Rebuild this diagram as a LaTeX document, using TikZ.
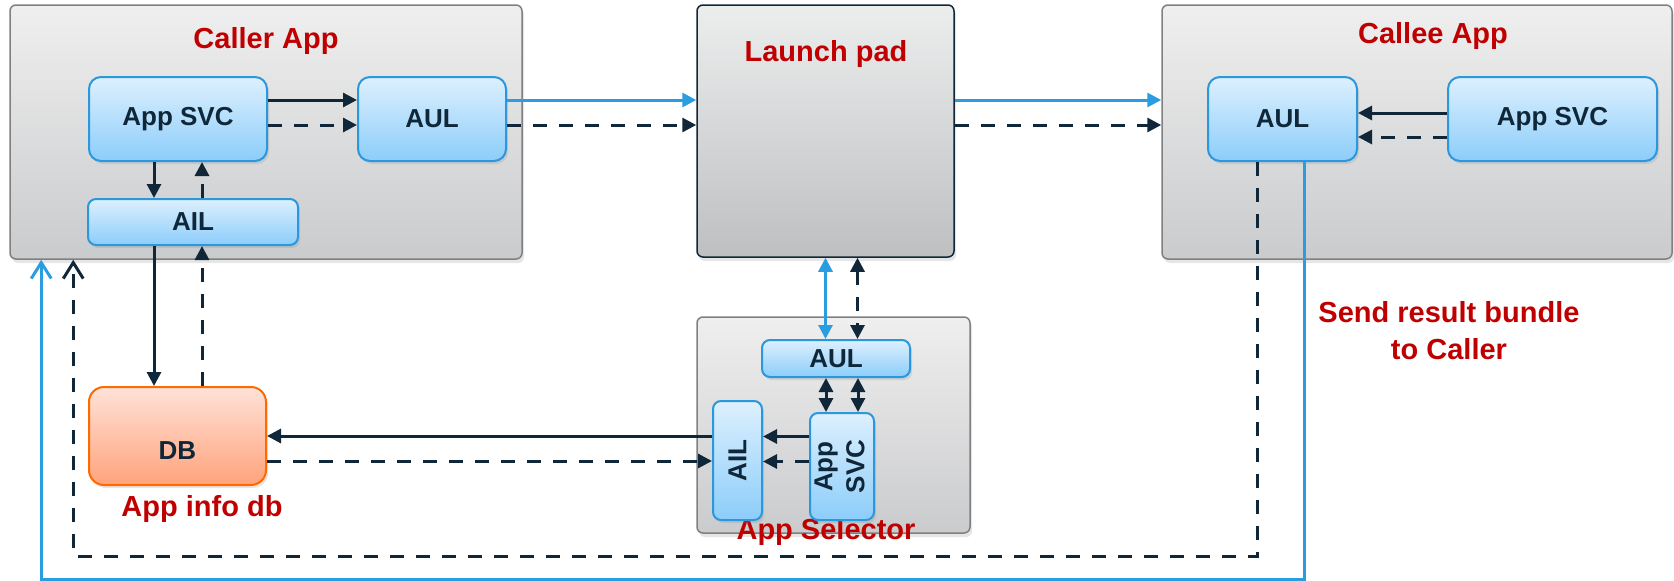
\documentclass[tikz,border=0pt]{standalone}
\usepackage{fontspec}
\setmainfont{Liberation Sans}
\usepackage{graphicx}
\usepackage{tikz}
\usetikzlibrary{arrows.meta,positioning,shadows}
\usepackage{xcolor}
\definecolor{lnkblue}{HTML}{2A9DE0}
\definecolor{lnkdark}{HTML}{0F2738}
\definecolor{ttlred}{HTML}{C00000}
\definecolor{boxedge}{HTML}{2B98DD}
\definecolor{boxtop}{HTML}{DDF0FE}
\definecolor{boxbot}{HTML}{8CCDFA}
\definecolor{grptop}{HTML}{EFEFEF}
\definecolor{grpbot}{HTML}{CACBCD}
\definecolor{padtop}{HTML}{ECEEEE}
\definecolor{padbot}{HTML}{BEBFC1}
\definecolor{dbedge}{HTML}{FF6A00}
\definecolor{dbtop}{HTML}{FFE2D8}
\definecolor{dbbot}{HTML}{FFA37C}

\begin{document}
\begin{tikzpicture}[
    x=1pt, y=-1pt,
    >={Triangle[length=14pt,width=14pt]},
    every node/.style={font=\fontsize{26}{32}\selectfont\bfseries, text=lnkdark},
    grp/.style={draw=black!50, line width=1.5pt, rounded corners=6pt, shading=axis,
        top color=grptop, bottom color=grpbot, inner sep=0pt,
        drop shadow={opacity=0.2, shadow xshift=2pt, shadow yshift=-4pt}},
    pad/.style={grp, draw=lnkdark, top color=padtop, bottom color=padbot},
    svc/.style={draw=boxedge, line width=2pt, rounded corners=12pt, shading=axis,
        top color=boxtop, bottom color=boxbot, inner sep=0pt,
        drop shadow={opacity=0.2, shadow xshift=2pt, shadow yshift=-3pt}},
    svcsmall/.style={svc, rounded corners=8pt},
    dbbox/.style={svc, draw=dbedge, top color=dbtop, bottom color=dbbot, rounded corners=15pt},
    ttl/.style={font=\fontsize{29}{37}\selectfont\bfseries, text=ttlred},
    flow/.style={line width=3pt, draw=lnkdark},
    flowdash/.style={flow, dash pattern=on 14pt off 12pt},
    flowblue/.style={line width=3pt, draw=lnkblue},
    backtip/.style={-{Straight Barb[length=16pt,width=20pt]}},
]
\useasboundingbox (0,0) rectangle (1674,581);

% groups
\node[grp, minimum width=512pt, minimum height=254pt] (caller) at (266,132) {};
\node[pad, minimum width=257pt, minimum height=252pt] (launch) at (825.5,131) {};
\node[grp, minimum width=510pt, minimum height=254pt] (callee) at (1417,132) {};
\node[grp, minimum width=273pt, minimum height=216pt] (selector) at (833.5,425) {};

\node[ttl, anchor=base] (callerT) at (266,48) {Caller App};
\node[ttl, anchor=base] (launchT) at (826,61) {Launch pad};
\node[ttl, anchor=base] (calleeT) at (1433,43) {Callee App};
\node[ttl, anchor=base] (selectorT) at (826,539) {App Selector};
\node[ttl, anchor=base] (dbT) at (202,516) {App info db};
\node[ttl, align=center] (resultT) at (1449,331) {Send result bundle\\to Caller};

% boxes
\node[svc, minimum width=178pt, minimum height=84pt] (csvc) at (178,119) {App SVC};
\node[svc, minimum width=148pt, minimum height=84pt] (caul) at (432,119) {AUL};
\node[svcsmall, minimum width=210pt, minimum height=46pt] (cail) at (193,222) {AIL};
\node[svc, minimum width=149pt, minimum height=84pt] (eaul) at (1282.5,119) {AUL};
\node[svc, minimum width=209pt, minimum height=84pt] (esvc) at (1552.5,119) {App SVC};
\node[svcsmall, minimum width=148pt, minimum height=37pt] (saul) at (836,358.5) {AUL};
\node[svcsmall, minimum width=49pt, minimum height=119pt] (sail) at (737.5,460.5) {\rotatebox{90}{AIL}};
\node[svcsmall, minimum width=64pt, minimum height=107pt] (ssvc) at (842,466.5)
  {\rotatebox{90}{\begin{tabular}{@{}c@{}}App\\SVC\end{tabular}}};
\node[dbbox, minimum width=177pt, minimum height=98pt, text height=47pt, text depth=0pt]
  (db) at (177.5,436) {DB};

% caller side
\draw[flow,->] ([yshift=19pt]csvc.east) -- ([yshift=19pt]csvc.east -| caul.west);
\draw[flowdash,->] ([yshift=-6pt]csvc.east) -- ([yshift=-6pt]csvc.east -| caul.west);
\draw[flow,->] ([xshift=-24pt]csvc.south) -- ([xshift=-24pt]csvc.south |- cail.north);
\draw[flowdash,->] ([xshift=24pt]csvc.south |- cail.north) -- ([xshift=24pt]csvc.south);
\draw[flow,->] ([xshift=-39pt]cail.south) -- ([xshift=-39pt]cail.south |- db.north);
\draw[flowdash,->] ([xshift=9pt]cail.south |- db.north) -- ([xshift=9pt]cail.south);

% through the launch pad
\draw[flowblue,->] ([yshift=19pt]caul.east) -- ([yshift=19pt]caul.east -| launch.west);
\draw[flowdash,->] ([yshift=-6pt]caul.east) -- ([yshift=-6pt]caul.east -| launch.west);
\draw[flowblue,->] ([yshift=19pt]caul.east -| launch.east) -- ([yshift=19pt]caul.east -| callee.west);
\draw[flowdash,->] ([yshift=-6pt]caul.east -| launch.east) -- ([yshift=-6pt]caul.east -| callee.west);

% callee side
\draw[flow,->] ([yshift=6pt]esvc.west) -- ([yshift=6pt]esvc.west -| eaul.east);
\draw[flowdash,->] ([yshift=-18pt]esvc.west) -- ([yshift=-18pt]esvc.west -| eaul.east);

% app selector
\draw[flowblue,<->] (launch.south) -- (launch.south |- saul.north);
\draw[flowdash,<->] ([xshift=32pt]launch.south) -- ([xshift=32pt]launch.south |- saul.north);
\draw[flow,<->] ([xshift=-16pt]ssvc.north) -- ([xshift=-16pt]ssvc.north |- saul.south);
\draw[flow,<->] ([xshift=16pt]ssvc.north) -- ([xshift=16pt]ssvc.north |- saul.south);
\draw[flow,->] ([yshift=30pt]ssvc.west) -- ([yshift=30pt]ssvc.west -| sail.east);
\draw[flowdash,->] ([yshift=5pt]ssvc.west) -- ([yshift=5pt]ssvc.west -| sail.east);
\draw[flow,->] (db.east -| sail.west) -- (db.east);
\draw[flowdash,->] ([yshift=-25pt]db.east) -- ([yshift=-25pt]db.east -| sail.west);

% result back to the caller
\coordinate (dashlow) at (0,556);
\coordinate (bluelow) at (0,579);
\draw[flowdash,backtip] ([xshift=-25pt]eaul.south) -- ([xshift=-25pt]eaul.south |- dashlow)
  -| ([xshift=64pt]caller.south west);
\draw[flowblue,backtip] ([xshift=22pt]eaul.south) -- ([xshift=22pt]eaul.south |- bluelow)
  -| ([xshift=32pt]caller.south west);
\end{tikzpicture}
\end{document}
